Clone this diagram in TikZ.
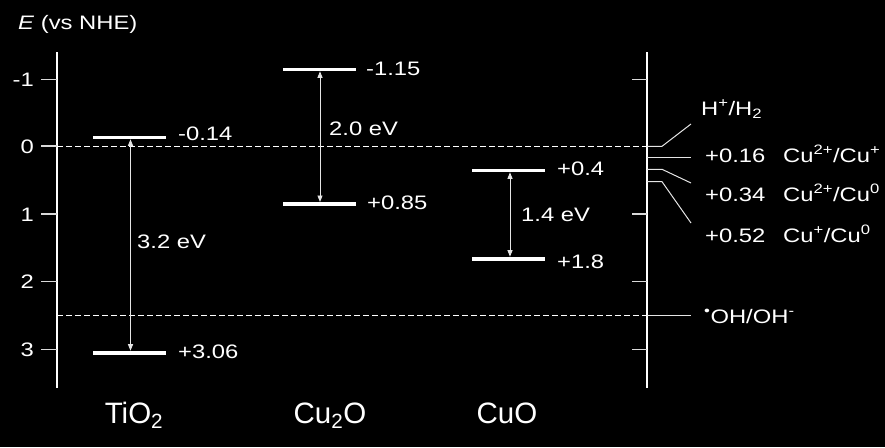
\documentclass[tikz,border=0pt]{standalone}
\usepackage{fontspec}
\setmainfont{Liberation Sans}
\newfontfamily\lblfont{Liberation Sans}[FakeStretch=1.22]
\usetikzlibrary{arrows.meta}
\begin{document}
\begin{tikzpicture}[x=1pt,y=-1pt,
  every node/.style={text=white,inner sep=0pt,font=\lblfont\fontsize{19.5}{22}\selectfont},
  lbl/.style={anchor=base west},
  ticklbl/.style={anchor=base east},
  mat/.style={anchor=base,font=\normalfont\fontsize{29.5}{32}\selectfont},
  axis/.style={draw=white,line width=1.3pt},
  tickmark/.style={draw=white!85!black,line width=1.3pt},
  band/.style={draw=white,line width=3.6pt},
  gaparrow/.style={draw=white!90!black,line width=0.9pt,{Triangle[width=5pt,length=6.5pt]}-{Triangle[width=5pt,length=6.5pt]}},
  refline/.style={draw=white,line width=0.9pt,dash pattern=on 5.5pt off 3.5pt},
  lead/.style={draw=white!90!black,line width=1pt},
]
\fill[black] (0,0) rectangle (885,447);
\useasboundingbox (0,0) rectangle (885,447);

% axes
\coordinate (LT) at (57,52);  \coordinate (LB) at (57,388);
\coordinate (RT) at (647,52); \coordinate (RB) at (647,388);
\draw[axis] (LT) -- (LB);
\draw[axis] (RT) -- (RB);

% left ticks
\foreach \v/\yy in {-1/79.3,0/146,1/214,2/281.5,3/349.2}{
  \coordinate (lt\v) at (41,\yy);
  \draw[tickmark] (lt\v) -- (57,\yy);
  \node[ticklbl] at (34,\yy+7) {\v};
}
% right ticks
\foreach \yy in {79.3,214,281.5,349.2}{
  \coordinate (rt) at (632,\yy);
  \draw[tickmark] (rt) -- (647,\yy);
}

% reference lines
\coordinate (z0) at (57,146.3); \coordinate (z1) at (647,146.3);
\draw[refline] (z0) -- (z1);
\coordinate (o0) at (57,315); \coordinate (o1) at (647,315);
\draw[refline] (o0) -- (o1);

% axis label
\node[anchor=base west] (elab) at (18,29) {\textit{E} (vs NHE)};

% TiO2
\coordinate (tcbL) at (93,137.3); \coordinate (tcbR) at (166,137.3);
\coordinate (tvbL) at (93,352.7); \coordinate (tvbR) at (166,352.7);
\draw[band] (tcbL) -- (tcbR);
\draw[band] (tvbL) -- (tvbR);
\coordinate (tcbA) at (130.5,139.3); \coordinate (tvbA) at (130.5,350.7);
\draw[gaparrow] (tcbA) -- (tvbA);
\node[lbl] (tcbl) at (178,140) {-0.14};
\node[lbl] (tvbl) at (178,358.5) {+3.06};
\node[lbl] (tgap) at (137,248) {3.2 eV};
\node[mat] (tname) at (134,423) {TiO\textsubscript{2}};

% Cu2O
\coordinate (ccbL) at (283,69.3); \coordinate (ccbR) at (356,69.3);
\coordinate (cvbL) at (283,204); \coordinate (cvbR) at (356,204);
\draw[band] (ccbL) -- (ccbR);
\draw[band] (cvbL) -- (cvbR);
\coordinate (ccbA) at (320,71.3); \coordinate (cvbA) at (320,202);
\draw[gaparrow] (ccbA) -- (cvbA);
\node[lbl] (ccbl) at (366,75) {-1.15};
\node[lbl] (cvbl) at (367,209) {+0.85};
\node[lbl] (cgap) at (329,135) {2.0 eV};
\node[mat] (cname) at (330,423) {Cu\textsubscript{2}O};

% CuO
\coordinate (dcbL) at (472,170.3); \coordinate (dcbR) at (545,170.3);
\coordinate (dvbL) at (472,258.7); \coordinate (dvbR) at (545,258.7);
\draw[band] (dcbL) -- (dcbR);
\draw[band] (dvbL) -- (dvbR);
\coordinate (dcbA) at (510,172.3); \coordinate (dvbA) at (510,256.7);
\draw[gaparrow] (dcbA) -- (dvbA);
\node[lbl] (dcbl) at (557,175.5) {+0.4};
\node[lbl] (dvbl) at (557,268.5) {+1.8};
\node[lbl] (dgap) at (521,221) {1.4 eV};
\node[mat] (dname) at (507,423) {CuO};

% redox couples
\coordinate (h0) at (647,146.3); \coordinate (h1) at (662,146.3); \coordinate (h2) at (691,124);
\draw[lead] (h0) -- (h1) -- (h2);
\node[lbl] (hl) at (701,115.5) {H\textsuperscript{+}/H\textsubscript{2}};

\coordinate (a0) at (647,157); \coordinate (a1) at (691,157);
\draw[lead] (a0) -- (a1);
\node[lbl] (al) at (705,162.5) {+0.16};
\node[lbl] (alc) at (783,162.5) {Cu\textsuperscript{2+}/Cu\textsuperscript{+}};

\coordinate (b0) at (647,169.3); \coordinate (b1) at (662,169.3); \coordinate (b2) at (691,183);
\draw[lead] (b0) -- (b1) -- (b2);
\node[lbl] (bl) at (705,201.5) {+0.34};
\node[lbl] (blc) at (783,201.5) {Cu\textsuperscript{2+}/Cu\textsuperscript{0}};

\coordinate (c0) at (647,181.7); \coordinate (c1) at (662,181.7); \coordinate (c2) at (691,223);
\draw[lead] (c0) -- (c1) -- (c2);
\node[lbl] (cl) at (705,242.5) {+0.52};
\node[lbl] (clc) at (783,242.5) {Cu\textsuperscript{+}/Cu\textsuperscript{0}};

\coordinate (o2) at (691,315);
\draw[lead] (o1) -- (o2);
\node[lbl] (ol) at (704,323) {\textsuperscript{\textbullet}OH/OH\textsuperscript{-}};
\end{tikzpicture}
\end{document}
